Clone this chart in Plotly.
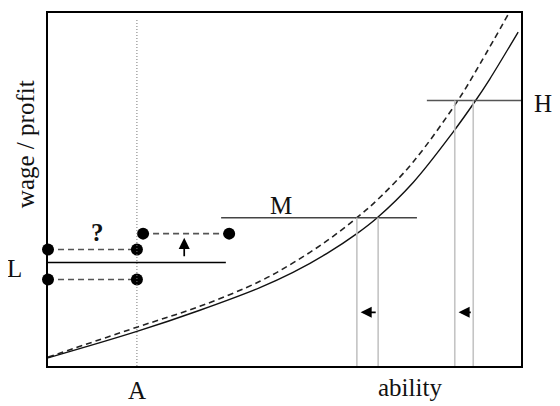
import plotly.graph_objects as go

# ---- data (abstract units: ability 0-10, wage/profit 0-10) ----
ability_solid = [0, 1.88, 3.21, 4.48, 5.18, 5.90, 6.53, 6.96, 7.72, 8.56, 9.03, 9.34, 9.94]
wage_solid = [0.23, 0.98, 1.58, 2.22, 2.65, 3.19, 3.75, 4.20, 5.20, 6.62, 7.50, 8.13, 9.46]

ability_dashed = [0, 1.88, 3.21, 4.48, 5.18, 5.90, 6.53, 7.02, 7.72, 8.65, 9.13, 9.77]
wage_dashed = [0.25, 1.10, 1.69, 2.40, 2.92, 3.55, 4.20, 4.78, 5.78, 7.49, 8.55, 10.06]

level_names = ["L", "M", "H"]
level_values = [2.93, 4.20, 7.52]
level_x_start = [0, 3.66, 8.01]
level_x_end = [3.76, 7.80, 10.02]

point_A = 1.88
cut_old = [6.98, 8.99]      # solid curve crossings (M, H)
cut_new = [6.53, 8.60]      # dashed curve crossings (M, H)
cut_levels = [4.20, 7.52]

dots_low_x = [0, 1.88]
dots_low_y = [2.45, 2.45]
dots_mid_x = [0, 1.88]
dots_mid_y = [3.30, 3.30]
dots_high_x = [2.01, 3.83]
dots_high_y = [3.75, 3.75]

FONT = "Liberation Serif, Times New Roman, serif"

fig = go.Figure()

# curves
fig.add_trace(go.Scatter(x=ability_dashed, y=wage_dashed, mode="lines",
                         line=dict(color="#222", width=1.6, dash="6px,4px",
                                   shape="spline", smoothing=1.0),
                         hoverinfo="skip"))
fig.add_trace(go.Scatter(x=ability_solid, y=wage_solid, mode="lines",
                         line=dict(color="#111", width=1.4, shape="spline", smoothing=1.0),
                         hoverinfo="skip"))

# dotted vertical at A
fig.add_shape(type="line", x0=point_A, x1=point_A, y0=0, y1=9.83,
              line=dict(color="#777", width=1, dash="1px,2px"))

# level lines
level_colors = ["#000", "#444", "#555"]
for xs, xe, yv, c in zip(level_x_start, level_x_end, level_values, level_colors):
    fig.add_shape(type="line", x0=xs, x1=xe, y0=yv, y1=yv,
                  line=dict(color=c, width=1.5))

# light gray vertical drop lines
for xv, lv in zip(cut_old + cut_new, cut_levels + cut_levels):
    fig.add_shape(type="line", x0=xv, x1=xv, y0=0, y1=lv,
                  line=dict(color="#c4c4c4", width=1.6))

# dots with dashed connectors
for xs, ys in [(dots_low_x, dots_low_y), (dots_mid_x, dots_mid_y), (dots_high_x, dots_high_y)]:
    fig.add_trace(go.Scatter(x=xs, y=ys, mode="lines+markers",
                             line=dict(color="#555", width=1.6, dash="6px,4px"),
                             marker=dict(color="#000", size=12),
                             cliponaxis=False, hoverinfo="skip"))

# arrows
arrow_style = dict(showarrow=True, arrowhead=2, arrowsize=1.3, arrowwidth=1.7,
                   arrowcolor="#000", axref="x", ayref="y", text="")
fig.add_annotation(x=2.88, y=3.63, ax=2.88, ay=3.07, **arrow_style)
for xo, xn in zip(cut_old, cut_new):
    fig.add_annotation(x=xn + 0.08, y=1.52, ax=xo - 0.02, ay=1.52, **arrow_style)

# labels (paper coordinates)
lab = dict(showarrow=False, font=dict(family=FONT, size=25, color="#111"),
           xref="paper", yref="paper", xanchor="center", yanchor="middle")
fig.add_annotation(x=0.188, y=-0.068, text="A", **lab)
fig.add_annotation(x=0.765, y=-0.062, text="ability", **lab)
fig.add_annotation(x=0.493, y=0.456, text=level_names[1], **lab)
fig.add_annotation(x=1.047, y=0.744, text=level_names[2], **lab)
fig.add_annotation(x=-0.071, y=0.276, text=level_names[0], **lab)
fig.add_annotation(x=0.104, y=0.378, text="<b>?</b>", **lab)
fig.add_annotation(x=-0.049, y=0.628, text="wage / profit", textangle=-90, **lab)

axis_common = dict(showgrid=False, zeroline=False, showticklabels=False, ticks="",
                   showline=True, linecolor="#000", linewidth=2, mirror=True)
fig.update_xaxes(range=[0, 10], **axis_common)
fig.update_yaxes(range=[0, 10], **axis_common)

fig.update_layout(width=560, height=406, showlegend=False,
                  margin=dict(l=40, r=47, t=3, b=48),
                  plot_bgcolor="white", paper_bgcolor="white")

fig.write_html("out.html")
